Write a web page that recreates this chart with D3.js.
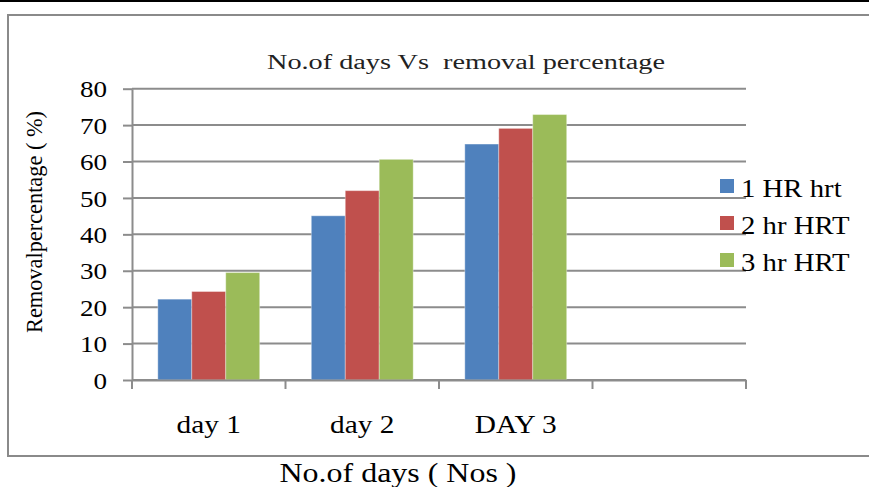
<!DOCTYPE html>
<html>
<head>
<meta charset="utf-8">
<script src="https://cdn.jsdelivr.net/npm/d3@7"></script>
<style>
  body { margin: 0; background: #fff; }
  svg { display: block; }
  text { font-family: "Liberation Serif", "Times New Roman", serif; fill: #000; }
</style>
</head>
<body>
<div id="chart"></div>
<script>
// data
const categories = ["day 1", "day 2", "DAY 3", ""];
const seriesNames = ["1 HR hrt", "2 hr HRT", "3 hr HRT"];
const hr1 = [22.2, 45.1, 64.8];
const hr2 = [24.3, 52.0, 69.1];
const hr3 = [29.5, 60.6, 72.9];
const yTicks = [0, 10, 20, 30, 40, 50, 60, 70, 80];
const colors = ["#4F81BD", "#C0504D", "#9BBB59"];

const seriesValues = [hr1, hr2, hr3];

const width = 869, height = 487;
const plot = { left: 132, right: 746, top: 88.7, bottom: 380 };
const sx = 1.13; // picture is a bit stretched sideways

const svg = d3.select("#chart")
    .append("svg")
    .attr("width", width)
    .attr("height", height);

// top black rule and chart frame
svg.append("rect").attr("x", 0).attr("y", 0).attr("width", width).attr("height", 2).attr("fill", "#000");
svg.append("rect")
    .attr("x", 8).attr("y", 15)
    .attr("width", 900).attr("height", 441)
    .attr("fill", "none")
    .attr("stroke", "#8a8a8a")
    .attr("stroke-width", 2);

// scales
const x0 = d3.scaleBand()
    .domain(categories)
    .range([plot.left, plot.right])
    .padding(0);

const x1 = d3.scaleBand()
    .domain(seriesNames)
    .range([0, x0.bandwidth()])
    .paddingInner(0)
    .paddingOuter(0.76);

const y = d3.scaleLinear()
    .domain([0, 80])
    .range([plot.bottom, plot.top]);

// gridlines
svg.append("g")
    .selectAll("line")
    .data(yTicks)
    .enter()
    .append("line")
    .attr("x1", plot.left)
    .attr("x2", plot.right)
    .attr("y1", d => y(d))
    .attr("y2", d => y(d))
    .attr("stroke", "#8c8c8c")
    .attr("stroke-width", 2);

// bars
const rows = [];
categories.forEach((c, i) => {
    seriesNames.forEach((s, j) => {
        if (seriesValues[j][i] !== undefined) rows.push({ cat: c, series: s, value: seriesValues[j][i], color: colors[j] });
    });
});

svg.append("g")
    .selectAll("rect")
    .data(rows)
    .enter()
    .append("rect")
    .attr("x", d => x0(d.cat) + x1(d.series))
    .attr("y", d => y(d.value))
    .attr("width", x1.bandwidth())
    .attr("height", d => y(0) - y(d.value))
    .attr("fill", d => d.color)
    .attr("stroke", "rgba(255,255,255,0.35)")
    .attr("stroke-width", 1);

// y axis
const yAxis = svg.append("g")
    .attr("transform", `translate(${plot.left},0)`)
    .call(d3.axisLeft(y).tickValues(yTicks).tickSize(9).tickSizeOuter(0).tickPadding(0));
yAxis.select(".domain").attr("stroke", "#8c8c8c").attr("stroke-width", 2);
yAxis.selectAll(".tick line").attr("stroke", "#8c8c8c").attr("stroke-width", 2);
yAxis.selectAll(".tick text")
    .attr("x", -25 / sx)
    .attr("dy", "0.34em")
    .attr("transform", `scale(${sx},1)`)
    .style("font-size", "24px")
    .style("font-family", "'Liberation Serif', serif");

// x axis
const xAxis = svg.append("g")
    .attr("transform", `translate(0,${plot.bottom})`)
    .call(d3.axisBottom(x0).tickSize(0).tickSizeOuter(0));
xAxis.select(".domain").attr("stroke", "#8c8c8c").attr("stroke-width", 2);
xAxis.selectAll(".tick text")
    .attr("y", 53)
    .attr("dy", 0)
    .attr("transform", `scale(${sx},1)`)
    .style("font-size", "26px")
    .style("font-family", "'Liberation Serif', serif");

// category boundary ticks
const bounds = categories.map(c => x0(c)).concat([plot.right]);
xAxis.selectAll(".bound")
    .data(bounds)
    .enter()
    .append("line")
    .attr("class", "bound")
    .attr("x1", d => d).attr("x2", d => d)
    .attr("y1", 0).attr("y2", 9)
    .attr("stroke", "#8c8c8c")
    .attr("stroke-width", 2);

// title
svg.append("text")
    .attr("x", 466)
    .attr("y", 68.5)
    .attr("text-anchor", "middle")
    .attr("textLength", 398)
    .attr("lengthAdjust", "spacingAndGlyphs")
    .style("font-size", "20px")
    .style("white-space", "pre")
    .style("fill", "#222")
    .text("No.of days Vs  removal percentage");

// axis titles
svg.append("text")
    .attr("transform", `translate(42,222) scale(${sx},1) rotate(-90)`)
    .attr("text-anchor", "middle")
    .attr("textLength", 222)
    .attr("lengthAdjust", "spacingAndGlyphs")
    .style("font-size", "21px")
    .text("Removalpercentage ( %)");

svg.append("text")
    .attr("x", 398)
    .attr("y", 482)
    .attr("text-anchor", "middle")
    .attr("textLength", 237)
    .attr("lengthAdjust", "spacingAndGlyphs")
    .style("font-size", "27px")
    .text("No.of days ( Nos )");

// legend
const legend = svg.append("g")
    .selectAll("g")
    .data(seriesNames)
    .enter()
    .append("g")
    .attr("transform", (d, i) => `translate(720,${186 + i * 37})`);

legend.append("rect")
    .attr("x", 0).attr("y", -7)
    .attr("width", 14).attr("height", 14)
    .attr("fill", (d, i) => colors[i]);

legend.append("text")
    .attr("transform", `translate(21,10.5) scale(1.15,1)`)
    .style("font-size", "25px")
    .text(d => d);
</script>
</body>
</html>
